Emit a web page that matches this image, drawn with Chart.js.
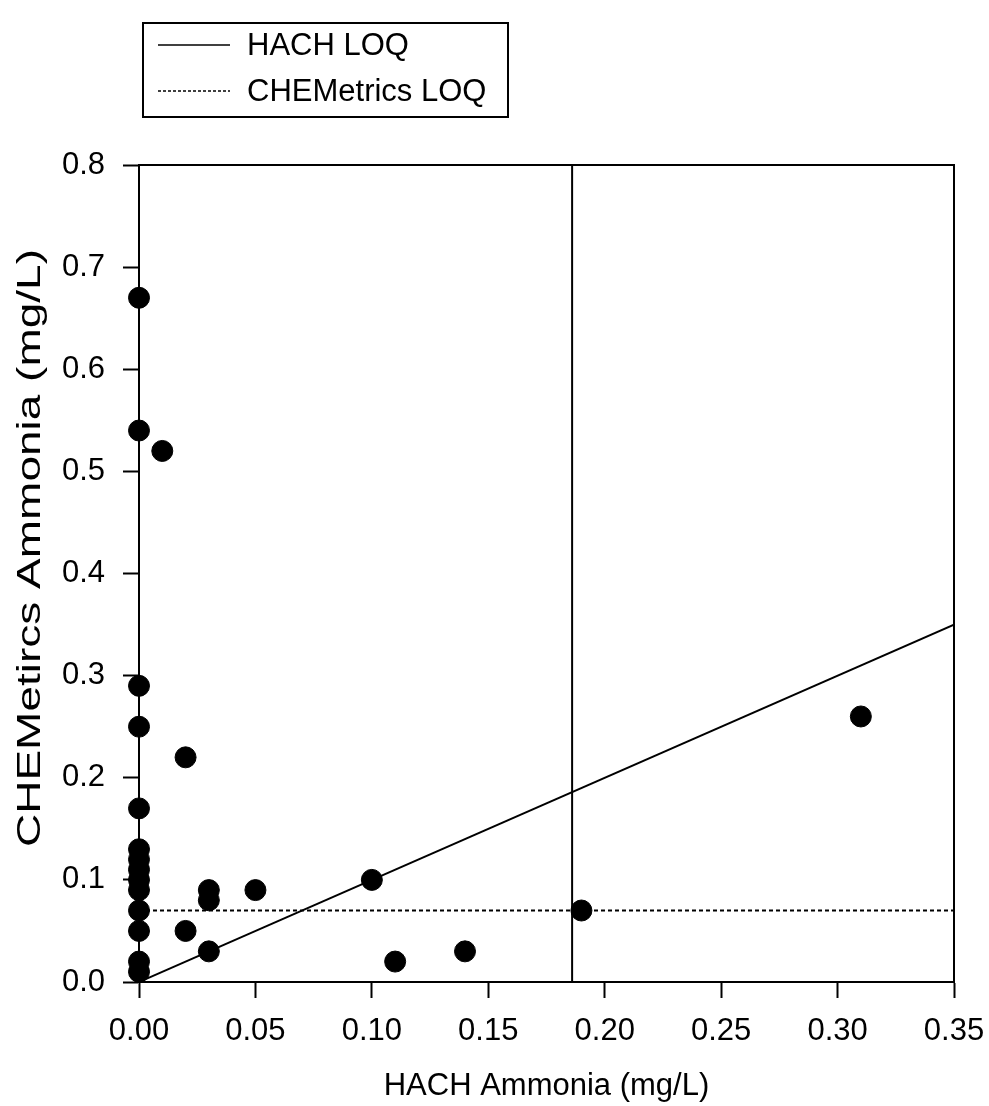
<!DOCTYPE html>
<html>
<head>
<meta charset="utf-8">
<script src="https://cdn.jsdelivr.net/npm/chart.js@4.4.1/dist/chart.umd.min.js"></script>
<style>
  html, body { margin: 0; padding: 0; background: #ffffff; }
  #wrap { width: 989px; height: 1106px; position: relative; }
</style>
</head>
<body>
<div id="wrap"><canvas id="c" width="989" height="1106"></canvas></div>
<script>
// ---- data ----
const hachAmmonia = [0, 0, 0, 0, 0, 0, 0, 0, 0, 0, 0, 0, 0, 0, 0.01, 0.02, 0.02, 0.03, 0.03, 0.03, 0.05, 0.10, 0.11, 0.14, 0.19, 0.31];
const chemAmmonia = [0.67, 0.54, 0.29, 0.25, 0.17, 0.13, 0.12, 0.11, 0.10, 0.09, 0.07, 0.05, 0.02, 0.01, 0.52, 0.22, 0.05, 0.09, 0.08, 0.03, 0.09, 0.10, 0.02, 0.03, 0.07, 0.26];

const hachLoqX = [0.186, 0.186];
const hachLoqY = [0, 0.8];
const chemLoqX = [0, 0.35];
const chemLoqY = [0.07, 0.07];
const oneToOneX = [0, 0.35];
const oneToOneY = [0, 0.35];

const xTickValues = [0, 0.05, 0.10, 0.15, 0.20, 0.25, 0.30, 0.35];
const xTickLabels = ['0.00', '0.05', '0.10', '0.15', '0.20', '0.25', '0.30', '0.35'];
const yTickValues = [0, 0.1, 0.2, 0.3, 0.4, 0.5, 0.6, 0.7, 0.8];
const yTickLabels = ['0.0', '0.1', '0.2', '0.3', '0.4', '0.5', '0.6', '0.7', '0.8'];

const legendLabels = ['HACH LOQ', 'CHEMetrics LOQ'];
const xTitle = 'HACH Ammonia (mg/L)';
const yTitle = 'CHEMetircs Ammonia (mg/L)';

// ---- build ----
const FONT = '"Liberation Sans", Arial, Helvetica, sans-serif';
const zip = (xs, ys) => xs.map((x, i) => ({ x: x, y: ys[i] }));

const frameAndLegend = {
  id: 'frameAndLegend',
  afterDraw(chart) {
    const ctx = chart.ctx;
    const a = chart.chartArea;
    ctx.save();
    ctx.strokeStyle = '#000';
    ctx.lineWidth = 2;
    ctx.setLineDash([]);
    // top and right frame
    ctx.beginPath();
    ctx.moveTo(a.left, a.top);
    ctx.lineTo(a.right, a.top);
    ctx.lineTo(a.right, a.bottom);
    ctx.stroke();
    // legend box
    ctx.strokeRect(143, 23, 365, 94);
    const rows = [{ y: 45, dash: [] }, { y: 91, dash: [3, 2] }];
    rows.forEach((r, i) => {
      ctx.beginPath();
      ctx.setLineDash(r.dash);
      ctx.lineWidth = 1.6;
      ctx.moveTo(158, r.y);
      ctx.lineTo(230, r.y);
      ctx.stroke();
      ctx.setLineDash([]);
      ctx.fillStyle = '#000';
      ctx.font = '31px ' + FONT;
      ctx.textBaseline = 'middle';
      ctx.textAlign = 'left';
      ctx.fillText(legendLabels[i], 247, r.y + 1);
    });
    // y axis title (stretched along its length as in the reference)
    ctx.font = '34px ' + FONT;
    const w = ctx.measureText(yTitle).width;
    const targetLen = 598;
    ctx.translate(40, 847);
    ctx.rotate(-Math.PI / 2);
    ctx.scale(targetLen / w, 1);
    ctx.textBaseline = 'alphabetic';
    ctx.textAlign = 'left';
    ctx.fillText(yTitle, 0, 0);
    ctx.restore();
  }
};

new Chart(document.getElementById('c'), {
  type: 'scatter',
  data: {
    datasets: [
      {
        label: 'Samples',
        data: zip(hachAmmonia, chemAmmonia),
        backgroundColor: '#000',
        borderColor: '#000',
        borderWidth: 1,
        pointRadius: 10.5,
        pointHoverRadius: 10.5,
        showLine: false,
        clip: false,
        order: 0
      },
      {
        label: legendLabels[0],
        data: zip(hachLoqX, hachLoqY),
        showLine: true,
        borderColor: '#000',
        borderWidth: 2,
        pointRadius: 0,
        order: 1
      },
      {
        label: legendLabels[1],
        data: zip(chemLoqX, chemLoqY),
        showLine: true,
        borderColor: '#000',
        borderWidth: 2,
        borderDash: [4, 3],
        pointRadius: 0,
        order: 1
      },
      {
        label: '1:1',
        data: zip(oneToOneX, oneToOneY),
        showLine: true,
        borderColor: '#000',
        borderWidth: 2,
        pointRadius: 0,
        order: 1
      }
    ]
  },
  options: {
    responsive: false,
    animation: false,
    layout: { padding: { left: 0, top: 165, right: 35, bottom: 0 } },
    plugins: { legend: { display: false }, tooltip: { enabled: false } },
    scales: {
      x: {
        type: 'linear',
        min: 0,
        max: 0.35,
        afterBuildTicks: s => { s.ticks = xTickValues.map(v => ({ value: v })); },
        afterFit: s => { s.height = 124; s.paddingLeft = 0; s.paddingRight = 0; },
        ticks: {
          color: '#000',
          font: { family: FONT, size: 31 },
          padding: 15,
          maxRotation: 0,
          autoSkip: false,
          callback: (v, i) => xTickLabels[i]
        },
        grid: { display: true, drawOnChartArea: false, drawTicks: true, tickLength: 16, tickWidth: 2, color: '#000' },
        border: { display: true, color: '#000', width: 2 },
        title: { display: true, text: xTitle, color: '#000', font: { family: FONT, size: 31 }, padding: { top: 0, bottom: 1 } }
      },
      y: {
        type: 'linear',
        min: 0,
        max: 0.8,
        afterBuildTicks: s => { s.ticks = yTickValues.map(v => ({ value: v })); },
        afterFit: s => { s.width = 139; s.paddingTop = 0; s.paddingBottom = 0; },
        ticks: {
          color: '#000',
          font: { family: FONT, size: 31 },
          padding: 18,
          autoSkip: false,
          callback: (v, i) => yTickLabels[i]
        },
        grid: { display: true, drawOnChartArea: false, drawTicks: true, tickLength: 16, tickWidth: 2, color: '#000' },
        border: { display: true, color: '#000', width: 2 },
        title: { display: false, text: yTitle }
      }
    }
  },
  plugins: [frameAndLegend]
});
</script>
</body>
</html>
